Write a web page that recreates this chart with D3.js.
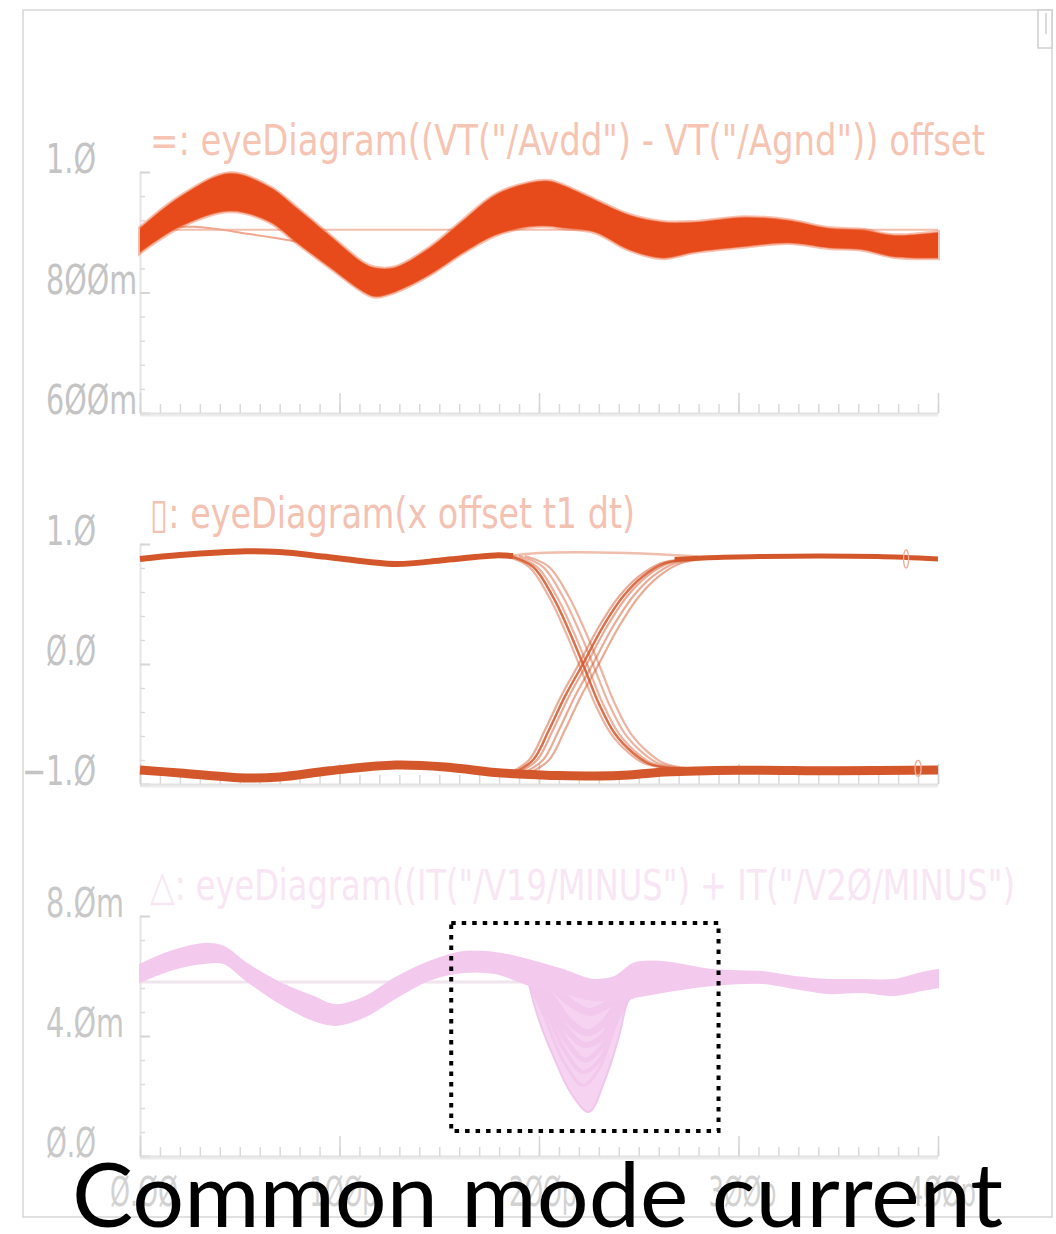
<!DOCTYPE html>
<html><head><meta charset="utf-8">
<script src="https://cdn.jsdelivr.net/npm/d3@7"></script>
<style>html,body{margin:0;padding:0;background:#fff;} svg{display:block;}</style>
</head><body>
<svg id="chart" width="1056" height="1234"></svg>
<script>
// ---------------- data ----------------
const timeMajorTicks = [0, 100, 200, 300, 400];
const timeTickLabels = ["Ø.ØØ", "1ØØp", "2ØØp", "3ØØp", "4ØØp"];

// Panel 1 : supply voltage eye (V)
const p1Title = '=: eyeDiagram((VT("/Avdd") - VT("/Agnd")) offset';
const p1TickValues = [0.6, 0.8, 1.0];
const p1TickLabels = ["6ØØm", "8ØØm", "1.Ø"];
const p1Time  = [0, 20, 45, 65, 78, 95, 112, 118, 128, 145, 162, 178, 195, 205, 212, 228, 245, 262, 278, 303, 325, 345, 362, 378, 400];
const p1Upper = [0.907, 0.959, 0.998, 0.975, 0.942, 0.895, 0.849, 0.841, 0.842, 0.874, 0.920, 0.962, 0.982, 0.985, 0.978, 0.954, 0.929, 0.917, 0.917, 0.925, 0.920, 0.907, 0.904, 0.895, 0.900];
const p1Lower = [0.866, 0.909, 0.935, 0.917, 0.884, 0.842, 0.801, 0.793, 0.801, 0.829, 0.866, 0.895, 0.909, 0.910, 0.907, 0.900, 0.871, 0.857, 0.867, 0.876, 0.882, 0.874, 0.871, 0.859, 0.857];
const p1FlatValue = 0.904;
const p1InitTime  = [0, 27, 55, 80];
const p1InitValue = [0.904, 0.909, 0.897, 0.884];

// Panel 2 : data eye (normalised)
const p2Title = '▯: eyeDiagram(x offset t1 dt)';
const p2TickValues = [-1, 0, 1];
const p2TickLabels = ["−1.Ø", "Ø.Ø", "1.Ø"];
const p2HighTime  = [0, 20, 53, 70, 95, 128, 153, 178, 187];
const p2HighValue = [0.875, 0.908, 0.94, 0.933, 0.89, 0.833, 0.867, 0.905, 0.9];
const p2HighTailTime  = [268, 285, 310, 340, 370, 400];
const p2HighTailValue = [0.87, 0.885, 0.895, 0.9, 0.895, 0.875];
const p2HoldTime  = [185, 200, 230, 260, 280];
const p2HoldValue = [0.9, 0.925, 0.93, 0.915, 0.895];
const p2LowTime  = [0, 20, 53, 70, 95, 128, 153, 178, 188, 210, 240, 263, 300, 350, 400];
const p2LowValue = [-0.883, -0.908, -0.95, -0.942, -0.89, -0.842, -0.858, -0.905, -0.915, -0.93, -0.93, -0.9, -0.885, -0.89, -0.883];
const p2FallTime  = [185, 197, 207, 215, 222, 230, 238, 247, 255, 267, 280];
const p2FallValue = [0.9, 0.81, 0.56, 0.28, 0.0, -0.33, -0.58, -0.74, -0.83, -0.87, -0.88];
const p2RiseTime  = [187, 197, 205, 213, 222, 232, 242, 252, 263, 280];
const p2RiseValue = [-0.91, -0.8, -0.55, -0.27, 0.0, 0.31, 0.56, 0.73, 0.84, 0.88];
const p2JitterPs = [-2, 0, 2, 5, 8];

// Panel 3 : common mode current (mA)
const p3Title = '△: eyeDiagram((IT("/V19/MINUS") + IT("/V2Ø/MINUS")';
const p3TickValues = [0, 4, 8];
const p3TickLabels = ["Ø.Ø", "4.Øm", "8.Øm"];
const p3Time  = [0, 15, 32, 42, 53, 70, 87, 98, 112, 128, 145, 162, 178, 195, 212, 227, 238, 248, 262, 287, 312, 328, 345, 362, 378, 392, 400];
const p3Upper = [6.37, 6.8, 7.07, 6.97, 6.43, 5.77, 5.3, 5.03, 5.27, 5.93, 6.47, 6.8, 6.77, 6.53, 6.2, 5.87, 5.97, 6.43, 6.47, 6.2, 6.13, 5.97, 5.87, 5.87, 5.87, 6.1, 6.2];
const p3Lower = [5.8, 6.2, 6.43, 6.43, 5.87, 5.1, 4.53, 4.37, 4.63, 5.27, 5.87, 6.13, 6.1, 5.7, 5.43, 5.2, 5.2, 5.3, 5.47, 5.7, 5.77, 5.6, 5.43, 5.47, 5.37, 5.53, 5.63];
const p3FlatValue = 5.8;
const p3DipTime  = [195, 200, 208, 216, 225, 233, 240, 245, 248];
const p3DipFloor = [5.7, 4.53, 3.2, 2.1, 1.47, 2.53, 3.97, 5.2, 5.3];
const p3DipTraces = [
  [[195, 5.8], [203, 4.6], [212, 3.2], [222, 2.35], [230, 2.9], [238, 4.3], [245, 5.35]],
  [[195, 5.85], [204, 4.75], [213, 3.5], [222, 2.8], [231, 3.25], [238, 4.5], [245, 5.4]],
  [[195, 5.9], [205, 4.9], [214, 3.8], [223, 3.2], [231, 3.6], [239, 4.7], [246, 5.45]],
  [[195, 5.95], [205, 5.1], [214, 4.2], [223, 3.7], [232, 4.0], [239, 4.9], [246, 5.5]],
  [[195, 6.0], [206, 5.3], [215, 4.5], [224, 4.1], [232, 4.4], [240, 5.1], [247, 5.5]],
  [[195, 6.1], [207, 5.6], [216, 5.1], [225, 4.8], [233, 5.0], [241, 5.4], [248, 5.6]]
];
const highlightTime  = [156, 290];
const highlightValue = [0.83, 7.77];

const captionText = "Common mode current";

// ---------------- drawing ----------------
const svg = d3.select("#chart");
const x = d3.scaleLinear().domain([0, 400]).range([140, 938]);
const y1 = d3.scaleLinear().domain([0.6, 1.0]).range([413, 172]);
const y2 = d3.scaleLinear().domain([-1, 1]).range([784, 544]);
const y3 = d3.scaleLinear().domain([0, 8]).range([1156, 916]);

const labelFont = "'Liberation Sans Narrow','DejaVu Sans Condensed','Liberation Sans',sans-serif";

// outer frame
svg.append("rect").attr("x", 23).attr("y", 10).attr("width", 1029).attr("height", 1207)
  .attr("fill", "none").attr("stroke", "#d6d6d6").attr("stroke-width", 1.5);
svg.append("rect").attr("x", 1038).attr("y", 10).attr("width", 14).attr("height", 38)
  .attr("fill", "#fff").attr("stroke", "#cfcfcf").attr("stroke-width", 1.5);
svg.append("line").attr("x1", 1046).attr("x2", 1046).attr("y1", 13).attr("y2", 34)
  .attr("stroke", "#cfcfcf").attr("stroke-width", 1.5);

function charW(c) {
  if (c === ".") return 8;
  if (c === "m") return 28;
  if (c === "−") return 24;
  return 21;
}
function textW(s) { return Array.from(s).reduce((a, c) => a + charW(c), 0); }

function drawAxes(y, minorVals, majorVals, labels, fill) {
  const g = svg.append("g");
  const yr = y.range();
  g.append("line").attr("x1", x(0)).attr("x2", x(400)).attr("y1", yr[0] + 1.5).attr("y2", yr[0] + 1.5)
    .attr("stroke", "#ececec").attr("stroke-width", 4);
  const ya = g.append("g").attr("transform", `translate(${x(0)},0)`)
    .call(d3.axisRight(y).tickValues(minorVals).tickSize(5).tickFormat("").tickSizeOuter(0));
  ya.select(".domain").attr("stroke", "#e4e4e4").attr("stroke-width", 2);
  ya.selectAll(".tick line").attr("stroke", "#dcdcdc").attr("stroke-width", 1.5);
  const yb = g.append("g").attr("transform", `translate(${x(0)},0)`)
    .call(d3.axisRight(y).tickValues(majorVals).tickSize(10).tickFormat("").tickSizeOuter(0));
  yb.select(".domain").remove();
  yb.selectAll(".tick line").attr("stroke", "#d6d6d6").attr("stroke-width", 2);
  const xm = g.append("g").attr("transform", `translate(0,${yr[0]})`)
    .call(d3.axisTop(x).tickValues(d3.range(0, 401, 10)).tickSize(9).tickFormat("").tickSizeOuter(0));
  xm.select(".domain").attr("stroke", "#e2e2e2").attr("stroke-width", 1.5);
  xm.selectAll(".tick line").attr("stroke", "#dadada").attr("stroke-width", 1.5);
  const xM = g.append("g").attr("transform", `translate(0,${yr[0]})`)
    .call(d3.axisTop(x).tickValues(timeMajorTicks).tickSize(20).tickFormat("").tickSizeOuter(0));
  xM.select(".domain").remove();
  xM.selectAll(".tick line").attr("stroke", "#d4d4d4").attr("stroke-width", 1.5);
  majorVals.forEach((v, i) => {
    const s = labels[i];
    const neg = s.startsWith("−");
    g.append("text").attr("x", neg ? 22 : 46).attr("y", y(v) + 1)
      .attr("font-family", labelFont).attr("font-size", 40).attr("font-weight", 300)
      .attr("fill", fill)
      .attr("textLength", textW(s)).attr("lengthAdjust", "spacingAndGlyphs")
      .text(s);
  });
}

function title(txt, yBase, width, color) {
  svg.append("text").attr("x", 150).attr("y", yBase)
    .attr("font-family", labelFont).attr("font-size", 42).attr("font-weight", 300)
    .attr("fill", color).attr("textLength", width).attr("lengthAdjust", "spacingAndGlyphs")
    .text(txt);
}

const smooth = d3.curveCatmullRom.alpha(0.5);

// ---------- Panel 1 ----------
drawAxes(y1, d3.range(0.6, 1.0001, 0.04), p1TickValues, p1TickLabels, "#c4c4c4");
title(p1Title, 155, 835, "#f6c4b3");
const c1 = "#e84b1b";
svg.append("line").attr("x1", x(0)).attr("x2", x(400)).attr("y1", y1(p1FlatValue)).attr("y2", y1(p1FlatValue))
  .attr("stroke", "#f4bfae").attr("stroke-width", 2);
svg.append("path").datum(p1InitTime.map((t, i) => [t, p1InitValue[i]]))
  .attr("d", d3.line().x(d => x(d[0])).y(d => y1(d[1])).curve(smooth))
  .attr("fill", "none").attr("stroke", "#f0a68c").attr("stroke-width", 2);
const p1Data = p1Time.map((t, i) => ({t, u: p1Upper[i], l: p1Lower[i]}));
svg.append("path").datum(p1Data)
  .attr("d", d3.area().x(d => x(d.t)).y0(d => y1(d.l)).y1(d => y1(d.u)).curve(smooth))
  .attr("fill", c1).attr("stroke", c1).attr("stroke-opacity", 0.35).attr("stroke-width", 4);
["u", "l"].forEach(k => {
  svg.append("path").datum(p1Data)
    .attr("d", d3.line().x(d => x(d.t)).y(d => y1(d[k])).curve(smooth))
    .attr("fill", "none").attr("stroke", "#ec7a55").attr("stroke-opacity", 0.5).attr("stroke-width", 1.2);
});

// ---------- Panel 2 ----------
drawAxes(y2, d3.range(-1, 1.0001, 0.2), p2TickValues, p2TickLabels, "#c4c4c4");
title(p2Title, 528, 485, "#f3c2b2");
const c2 = "#d4572c";
const line2 = d3.line().x(d => x(d[0])).y(d => y2(d[1])).curve(smooth);
svg.append("path").datum(p2HoldTime.map((t, i) => [t, p2HoldValue[i]]))
  .attr("d", line2).attr("fill", "none").attr("stroke", "#e9a38a").attr("stroke-width", 2.5).attr("opacity", 0.7);
p2JitterPs.forEach((dj, k) => {
  svg.append("path").datum(p2FallTime.map((t, i) => [t + dj, p2FallValue[i]]))
    .attr("d", line2).attr("fill", "none").attr("stroke", c2)
    .attr("stroke-width", k === 1 ? 2.5 : 2.2).attr("opacity", k === 1 ? 0.85 : 0.45);
  svg.append("path").datum(p2RiseTime.map((t, i) => [t + dj, p2RiseValue[i]]))
    .attr("d", line2).attr("fill", "none").attr("stroke", c2)
    .attr("stroke-width", k === 1 ? 2.5 : 2.2).attr("opacity", k === 1 ? 0.85 : 0.5);
});
svg.append("path").datum(p2HighTime.map((t, i) => [t, p2HighValue[i]]))
  .attr("d", line2).attr("fill", "none").attr("stroke", c2).attr("stroke-width", 6);
svg.append("path").datum(p2HighTailTime.map((t, i) => [t, p2HighTailValue[i]]))
  .attr("d", line2).attr("fill", "none").attr("stroke", c2).attr("stroke-width", 5);
svg.append("path").datum(p2LowTime.map((t, i) => [t, p2LowValue[i]]))
  .attr("d", line2).attr("fill", "none").attr("stroke", c2).attr("stroke-width", 9);
svg.append("ellipse").attr("cx", x(384)).attr("cy", y2(0.875)).attr("rx", 2.5).attr("ry", 9)
  .attr("fill", "none").attr("stroke", "#eeb09a").attr("stroke-width", 1.3);
svg.append("ellipse").attr("cx", x(390)).attr("cy", y2(-0.87)).attr("rx", 3).attr("ry", 8)
  .attr("fill", "none").attr("stroke", "#eeb09a").attr("stroke-width", 1.3);

// ---------- Panel 3 ----------
drawAxes(y3, d3.range(0, 8.0001, 0.8), p3TickValues, p3TickLabels, "#c8c8c8");
title(p3Title, 900, 865, "#f8e6f4");
svg.append("line").attr("x1", x(0)).attr("x2", x(400)).attr("y1", y3(p3FlatValue)).attr("y2", y3(p3FlatValue))
  .attr("stroke", "#f0e4ee").attr("stroke-width", 3);
const p3Data = p3Time.map((t, i) => ({t, u: p3Upper[i], l: p3Lower[i]}));
const lowerAt = d3.scaleLinear().domain(p3Time).range(p3Lower);
svg.append("path").datum(p3DipTime.map((t, i) => ({t, f: p3DipFloor[i]})))
  .attr("d", d3.area().x(d => x(d.t)).y0(d => y3(d.f)).y1(d => y3(lowerAt(d.t))).curve(smooth))
  .attr("fill", "#f6d4f1");
p3DipTraces.forEach((tr, k) => {
  svg.append("path").datum(tr)
    .attr("d", d3.line().x(d => x(d[0])).y(d => y3(d[1])).curve(smooth))
    .attr("fill", "none").attr("stroke", "#f2c8ec").attr("stroke-width", 3 + k);
});
svg.append("path").datum(p3DipTime.map((t, i) => [t, p3DipFloor[i]]))
  .attr("d", d3.line().x(d => x(d[0])).y(d => y3(d[1])).curve(smooth))
  .attr("fill", "none").attr("stroke", "#f1c6eb").attr("stroke-width", 2);
svg.append("path").datum(p3Data)
  .attr("d", d3.area().x(d => x(d.t)).y0(d => y3(d.l)).y1(d => y3(d.u)).curve(smooth))
  .attr("fill", "#f3caee").attr("stroke", "#f3caee").attr("stroke-width", 2);

// highlight box
svg.append("rect")
  .attr("x", x(highlightTime[0])).attr("y", y3(highlightValue[1]))
  .attr("width", x(highlightTime[1]) - x(highlightTime[0]))
  .attr("height", y3(highlightValue[0]) - y3(highlightValue[1]))
  .attr("fill", "none").attr("stroke", "#000").attr("stroke-width", 4)
  .attr("stroke-dasharray", "4.5,6");

// time tick labels (bottom panel)
timeMajorTicks.forEach((t, i) => {
  svg.append("text").attr("x", x(t) + 4).attr("y", 1206).attr("text-anchor", "middle")
    .attr("font-family", labelFont).attr("font-size", 40).attr("font-weight", 300)
    .attr("fill", "#d2d2d2")
    .attr("textLength", 68).attr("lengthAdjust", "spacingAndGlyphs")
    .text(timeTickLabels[i]);
});

// caption
svg.append("text").attr("x", 72).attr("y", 1227)
  .attr("font-family", "Lato, 'Open Sans', sans-serif").attr("font-size", 90)
  .attr("fill", "#000").attr("textLength", 931).attr("lengthAdjust", "spacingAndGlyphs")
  .text(captionText);
</script>
</body></html>
